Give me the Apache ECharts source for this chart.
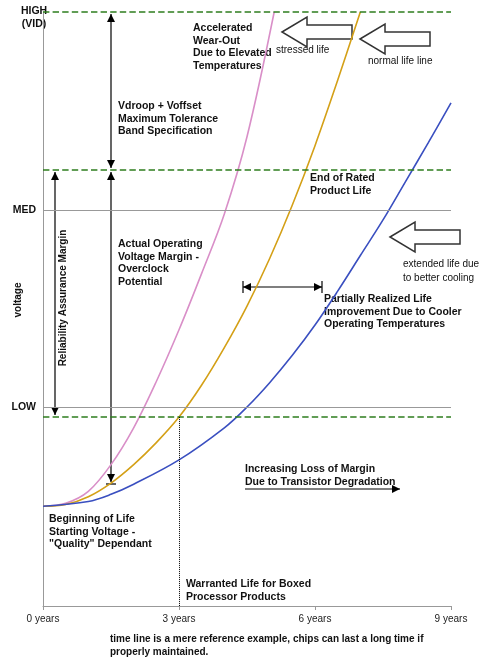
<!DOCTYPE html><html><head><meta charset="utf-8"><script src="https://cdn.jsdelivr.net/npm/echarts@6/dist/echarts.min.js"></script>
<style>html,body{margin:0;background:#fff}#c{width:480px;height:666px}</style></head><body><div id="c"></div><script>
const xTicks=[0,3,6,9];
const levels={HIGH:10,TOL:7.34,MED:6.67,LOW:3.35,MIN:3.18};
const stressed=[[0,1.68],[0.5,1.73],[1,1.93],[1.5,2.38],[2,3.0],[2.5,3.78],[3,4.65],[3.5,5.6],[4,6.6],[4.5,7.9],[5.1,10]];
const normal=[[0,1.68],[0.5,1.71],[1,1.84],[1.5,2.07],[2,2.38],[2.5,2.75],[3,3.18],[3.5,3.72],[4,4.35],[4.5,5.05],[5,5.85],[5.5,6.75],[6,7.75],[6.5,8.85],[7,10]];
const extended=[[0,1.68],[1,1.76],[1.5,1.88],[2,2.05],[3,2.46],[4,3.0],[4.5,3.35],[5,3.76],[5.5,4.22],[6,4.73],[6.5,5.3],[7,5.9],[7.5,6.5],[8,7.15],[8.5,7.8],[9,8.47]];
const F='"Liberation Sans", Arial, sans-serif';
const chart=echarts.init(document.getElementById('c'));
const T=(x,y,t,o={})=>({type:'text',x:x,y:y,rotation:o.r||0,style:{text:t,font:(o.w||'bold')+' '+(o.s||10.5)+'px '+F,fill:'#111',lineHeight:o.lh||13,align:o.a||'left',verticalAlign:o.va||'top'}});
const L=(x1,y1,x2,y2)=>({type:'line',shape:{x1,y1,x2,y2},style:{stroke:'#000',lineWidth:1.2}});
const head=(x,y,dir)=>{const s=4;let pts;
 if(dir==='up')pts=[[x,y],[x-s,y+8],[x+s,y+8]];else if(dir==='down')pts=[[x,y],[x-s,y-8],[x+s,y-8]];
 else if(dir==='left')pts=[[x,y],[x+8,y-s],[x+8,y+s]];else pts=[[x,y],[x-8,y-s],[x-8,y+s]];
 return {type:'polygon',shape:{points:pts},style:{fill:'#000'}};};
const block=(x,y)=>({type:'polygon',shape:{points:[[x,y+15],[x+25,y],[x+25,y+8],[x+70,y+8],[x+70,y+22],[x+25,y+22],[x+25,y+30]]},style:{fill:'#fff',stroke:'#333',lineWidth:1.5}});
const dash={type:'dashed',color:'#2e7d1e',width:1.6};
const line=(d,c)=>({type:'line',data:d,smooth:0.35,symbol:'none',lineStyle:{color:c,width:1.6},z:3});
const s0=line(stressed,'#d98fc8');
s0.markLine={symbol:'none',silent:true,label:{show:false},data:[
  [{coord:[0,levels.HIGH],lineStyle:dash},{coord:[9,levels.HIGH]}],
  [{coord:[0,levels.TOL],lineStyle:dash},{coord:[9,levels.TOL]}],
  [{coord:[0,levels.MIN],lineStyle:dash},{coord:[9,levels.MIN]}],
  [{coord:[0,levels.MED],lineStyle:{type:'solid',color:'#999',width:1}},{coord:[9,levels.MED]}],
  [{coord:[0,levels.LOW],lineStyle:{type:'solid',color:'#999',width:1}},{coord:[9,levels.LOW]}],
  [{coord:[3,levels.MIN],lineStyle:{type:'dotted',color:'#000',width:1}},{coord:[3,0]}]
 ]};
chart.setOption({animation:false,
grid:{left:43,right:29,top:12,bottom:60},
xAxis:{type:'value',min:0,max:9,interval:3,splitLine:{show:false},axisLine:{lineStyle:{color:'#999'}},axisTick:{show:true,length:4,lineStyle:{color:'#999'}},
 axisLabel:{formatter:v=>xTicks.includes(v)?v+' years':'',color:'#222',fontFamily:'"Liberation Sans",Arial',fontSize:10,margin:8}},
yAxis:{type:'value',min:0,max:10,splitLine:{show:false},axisLine:{show:true,lineStyle:{color:'#999'}},axisTick:{show:false},axisLabel:{show:false}},
series:[s0,line(normal,'#d4a017'),line(extended,'#3a4fc0')],
graphic:[
 T(34,5,'HIGH\n(VID)',{a:'center'}),T(36,210,'MED',{a:'right',va:'middle'}),T(36,407,'LOW',{a:'right',va:'middle'}),
 T(18,300,'voltage',{r:Math.PI/2,a:'center',va:'middle',s:10}),
 T(63,298,'Reliability Assurance Margin',{r:Math.PI/2,a:'center',va:'middle',s:10}),
 L(55,172,55,415),head(55,172,'up'),head(55,415,'down'),
 L(111,14,111,168),head(111,14,'up'),head(111,168,'down'),
 L(111,172,111,482),head(111,172,'up'),head(111,482,'down'),
 L(106,484,116,484),
 L(243,287,322,287),head(243,287,'left'),head(322,287,'right'),
 L(243,281,243,293),L(322,281,322,293),
 L(245,489,400,489),head(400,489,'right'),
 T(118,100,'Vdroop + Voffset\nMaximum Tolerance\nBand Specification',{lh:12.5}),
 T(193,22,'Accelerated\nWear-Out\nDue to Elevated\nTemperatures',{lh:12.5}),
 T(276,44,'stressed life',{w:'normal',s:10}),
 T(368,55,'normal life line',{w:'normal',s:10}),
 T(310,172,'End of Rated\nProduct Life',{lh:12.5}),
 T(118,238,'Actual Operating\nVoltage Margin -\nOverclock\nPotential',{lh:12.5}),
 T(403,257,'extended life due\nto better cooling',{w:'normal',lh:14,s:10}),
 T(324,293,'Partially Realized Life\nImprovement Due to Cooler\nOperating Temperatures',{lh:12.5}),
 T(245,463,'Increasing Loss of Margin\nDue to Transistor Degradation',{lh:12.5}),
 T(49,513,'Beginning of Life\nStarting Voltage -\n"Quality" Dependant',{lh:12.5}),
 T(186,578,'Warranted Life for Boxed\nProcessor Products',{lh:12.5}),
 T(110,633,'time line is a mere reference example, chips can last a long time if\nproperly maintained.',{lh:12.5,s:10}),
 block(282,17),block(360,24),block(390,222)
]});
</script></body></html>
